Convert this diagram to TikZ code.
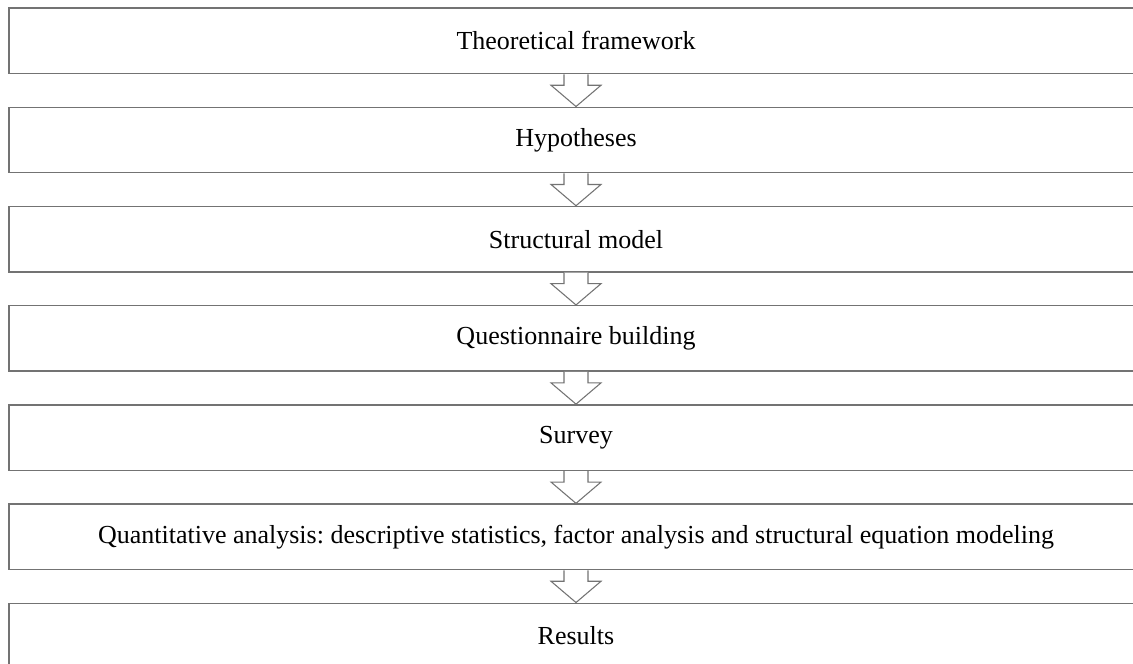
\documentclass[tikz,border=0pt]{standalone}
\usepackage{fontspec}
\setmainfont{Liberation Serif}
\usetikzlibrary{calc}

\tikzset{
  stage/.style={draw=gray!90!black, line width=1.1pt, fill=white,
    minimum width=850.5pt, minimum height=49.1pt, inner sep=0pt,
    font=\fontsize{19.5pt}{22pt}\selectfont},
  hollow/.style={draw=gray!90!black, line width=0.8pt, fill=white, line join=miter}
}

\begin{document}
\begin{tikzpicture}[x=0.75pt,y=0.75pt]
\useasboundingbox (0,0) rectangle (1133,-664);
\clip (0,0) rectangle (1133,-664);

\node [stage] (frame)  at (576,-40.8)  {Theoretical framework};
\node [stage] (hyp)    at (576,-140)   {Hypotheses};
\node [stage] (model)  at (576,-239.2) {Structural model};
\node [stage] (quest)  at (576,-338.4) {Questionnaire building};
\node [stage] (survey) at (576,-437.6) {Survey};
\node [stage] (quant)  at (576,-536.8) {Quantitative analysis:\ descriptive statistics,\ factor analysis\ and structural equation modeling};
\node [stage] (res)    at (576,-636)   {Results};

% hollow block arrows between the stages
\foreach \a/\b in {frame/hyp, hyp/model, model/quest, quest/survey, survey/quant, quant/res}
{
  \draw [hollow] ($(\a.south)+(-12,0)$) -- ($(\a.south)+(-12,-11)$) -- ($(\a.south)+(-25,-11)$)
    -- (\b.north) -- ($(\a.south)+(25,-11)$) -- ($(\a.south)+(12,-11)$) -- ($(\a.south)+(12,0)$);
}
\end{tikzpicture}
\end{document}
